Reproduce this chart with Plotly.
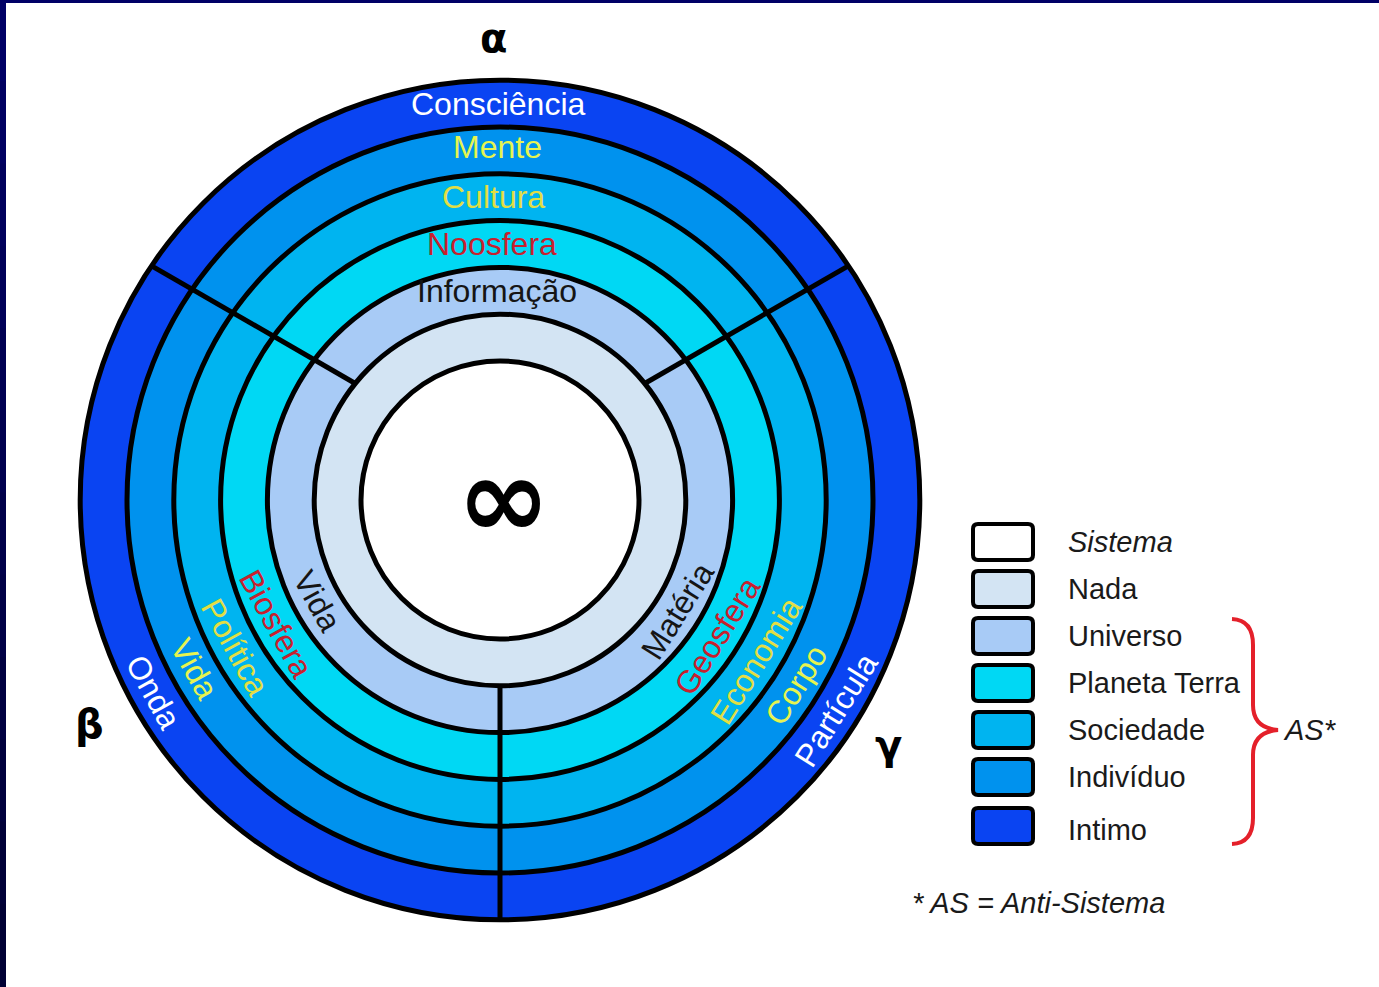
import math
import plotly.graph_objects as go

W, H = 1379, 987

# ---------------- data ----------------
rings = ["Sistema", "Nada", "Universo", "Planeta Terra", "Sociedade", "Indivíduo", "Intimo"]
ring_colors = ["#ffffff", "#d3e4f3", "#a8cbf6", "#00d8f4", "#00b4f0", "#0092ee", "#0a44f2"]
legend_italic = [True, False, False, False, False, False, False]

# labels for the divided rings (Universo -> Intimo)
top_labels = ["Informação", "Noosfera", "Cultura", "Mente", "Consciência"]
left_labels = ["Vida", "Biosfera", "Política", "Vida", "Onda"]
right_labels = ["Matéria", "Geosfera", "Economia", "Corpo", "Partícula"]
label_colors = ["#151515", "#c8202e", "#e2de44", "#e6f450", "#ffffff"]

sector_names = ["α", "β", "γ"]
sector_angles = [90, 209, 328]        # angular position of each sector's labels (deg)
divider_angles = [150, 30, 270]       # direction of the three dividing lines (deg)

center_symbol = "∞"
bracket_text = "AS*"
footnote = "* AS = Anti-Sistema"

# ---------------- geometry ----------------
cx, cy = 500, 500
r0, rw = 139, 46.8
bounds = [r0 + i * rw for i in range(len(rings))]   # outer radius of each ring
pivot = (0, 33)                                       # common point of divider lines (up from centre)

FONT = "Liberation Sans, Arial, sans-serif"

def px(x, y):
    """math coords (y up, relative to centre) -> pixel-like data coords"""
    return cx + x, cy - y

shapes = []
annotations = []

# frame (navy)
nseg = 12
for i in range(nseg):
    t = i / (nseg - 1)
    col = "rgb(0,0,%d)" % int(102 - 50 * t)
    shapes.append(dict(type="rect", xref="x", yref="y", x0=0, x1=6,
                       y0=H * i / nseg - 1, y1=H * (i + 1) / nseg + 1,
                       fillcolor=col, line=dict(width=0), layer="above"))
shapes.append(dict(type="rect", xref="x", yref="y", x0=0, x1=W, y0=0, y1=3,
                   fillcolor="#000066", line=dict(width=0), layer="above"))

# rings, largest first
for r, col in reversed(list(zip(bounds, ring_colors))):
    shapes.append(dict(type="circle", xref="x", yref="y",
                       x0=cx - r, x1=cx + r, y0=cy - r, y1=cy + r,
                       fillcolor=col, line=dict(color="#000000", width=5)))

# divider lines from Universo inner boundary to outer boundary
def line_circle(ang, r):
    dx, dy = math.cos(math.radians(ang)), math.sin(math.radians(ang))
    b = pivot[0] * dx + pivot[1] * dy
    c = pivot[0] ** 2 + pivot[1] ** 2 - r * r
    t = -b + math.sqrt(b * b - c)
    return pivot[0] + t * dx, pivot[1] + t * dy

for ang in divider_angles:
    a = px(*line_circle(ang, bounds[1]))
    b = px(*line_circle(ang, bounds[-1]))
    shapes.append(dict(type="line", xref="x", yref="y", x0=a[0], y0=a[1], x1=b[0], y1=b[1],
                       line=dict(color="#000000", width=5)))

# ring labels
top_dx = [-3, -8, -7, -3, -2]
top_dy = [0, 0, 0, -3, 0]
for k, sector in enumerate([top_labels, left_labels, right_labels]):
    th = sector_angles[k]
    for i, txt in enumerate(sector):
        ring = i + 2
        rm = (bounds[ring - 1] + bounds[ring]) / 2
        x, y = px(rm * math.cos(math.radians(th)), rm * math.sin(math.radians(th)))
        ta = 0 if k == 0 else (270 - th) % 360
        if ta > 180:
            ta -= 360
        if k == 0:
            x += top_dx[i]
            y += top_dy[i]
        annotations.append(dict(x=x, y=y, xref="x", yref="y", text=txt, showarrow=False,
                                textangle=ta, xanchor="center", yanchor="middle",
                                font=dict(family=FONT, size=32, color=label_colors[i])))

# greek sector names
greek_dx = [-7, -6, -3]
for name, th, ddx in zip(sector_names, sector_angles, greek_dx):
    rr = 462
    x, y = px(rr * math.cos(math.radians(th)), rr * math.sin(math.radians(th)))
    annotations.append(dict(x=x + ddx, y=y, xref="x", yref="y", text="<b>%s</b>" % name, showarrow=False,
                            xanchor="center", yanchor="middle",
                            font=dict(family="DejaVu Sans, sans-serif", size=40, color="#000000")))

# centre symbol
annotations.append(dict(x=cx + 3, y=cy - 2, xref="x", yref="y", text="<b>%s</b>" % center_symbol,
                        showarrow=False, xanchor="center", yanchor="middle",
                        font=dict(family="DejaVu Sans, sans-serif", size=112, color="#000000")))

# legend
def rounded(x0, y0, x1, y1, rr):
    return ("M %f,%f L %f,%f Q %f,%f %f,%f L %f,%f Q %f,%f %f,%f L %f,%f Q %f,%f %f,%f "
            "L %f,%f Q %f,%f %f,%f Z") % (
        x0 + rr, y0, x1 - rr, y0, x1, y0, x1, y0 + rr, x1, y1 - rr, x1, y1, x1 - rr, y1,
        x0 + rr, y1, x0, y1, x0, y1 - rr, x0, y0 + rr, x0, y0, x0 + rr, y0)

lx0, lx1, ly0, lstep, lh = 973, 1033, 542, 47, 36
for i, (name, col) in enumerate(zip(rings, ring_colors)):
    yc = ly0 + i * lstep
    if i == len(rings) - 1:
        yc += 2
    shapes.append(dict(type="path", xref="x", yref="y",
                       path=rounded(lx0, yc - lh / 2, lx1, yc + lh / 2, 5),
                       fillcolor=col, line=dict(color="#000000", width=4)))
    txt = "<i>%s</i>" % name if legend_italic[i] else name
    annotations.append(dict(x=1066, y=yc + (4 if i == len(rings) - 1 else 0), xref="x", yref="y",
                            text=txt, showarrow=False,
                            xanchor="left", yanchor="middle",
                            font=dict(family=FONT, size=29, color="#1a1a1a")))

# bracket
shapes.append(dict(type="path", xref="x", yref="y",
                   path="M 1232,619 Q 1253,620 1253,645 L 1253,705 Q 1253,728 1278,730 "
                        "Q 1253,732 1253,755 L 1253,818 Q 1253,843 1232,844",
                   line=dict(color="#e4202a", width=4)))
annotations.append(dict(x=1281, y=730, xref="x", yref="y", text="<i>%s</i>" % bracket_text,
                        showarrow=False, xanchor="left", yanchor="middle",
                        font=dict(family=FONT, size=29, color="#1a1a1a")))
annotations.append(dict(x=910, y=903, xref="x", yref="y", text="<i>%s</i>" % footnote,
                        showarrow=False, xanchor="left", yanchor="middle",
                        font=dict(family=FONT, size=29, color="#1a1a1a")))

fig = go.Figure(go.Scatter(x=[], y=[]))
fig.update_layout(
    width=W, height=H, margin=dict(l=0, r=0, t=0, b=0),
    paper_bgcolor="#ffffff", plot_bgcolor="#ffffff",
    xaxis=dict(range=[0, W], visible=False, fixedrange=True),
    yaxis=dict(range=[H, 0], visible=False, fixedrange=True),
    shapes=shapes, annotations=annotations, showlegend=False,
)
fig.write_html("out.html", config={"displayModeBar": False},
               post_script="document.body.style.margin='0';document.body.style.overflow='hidden';")
